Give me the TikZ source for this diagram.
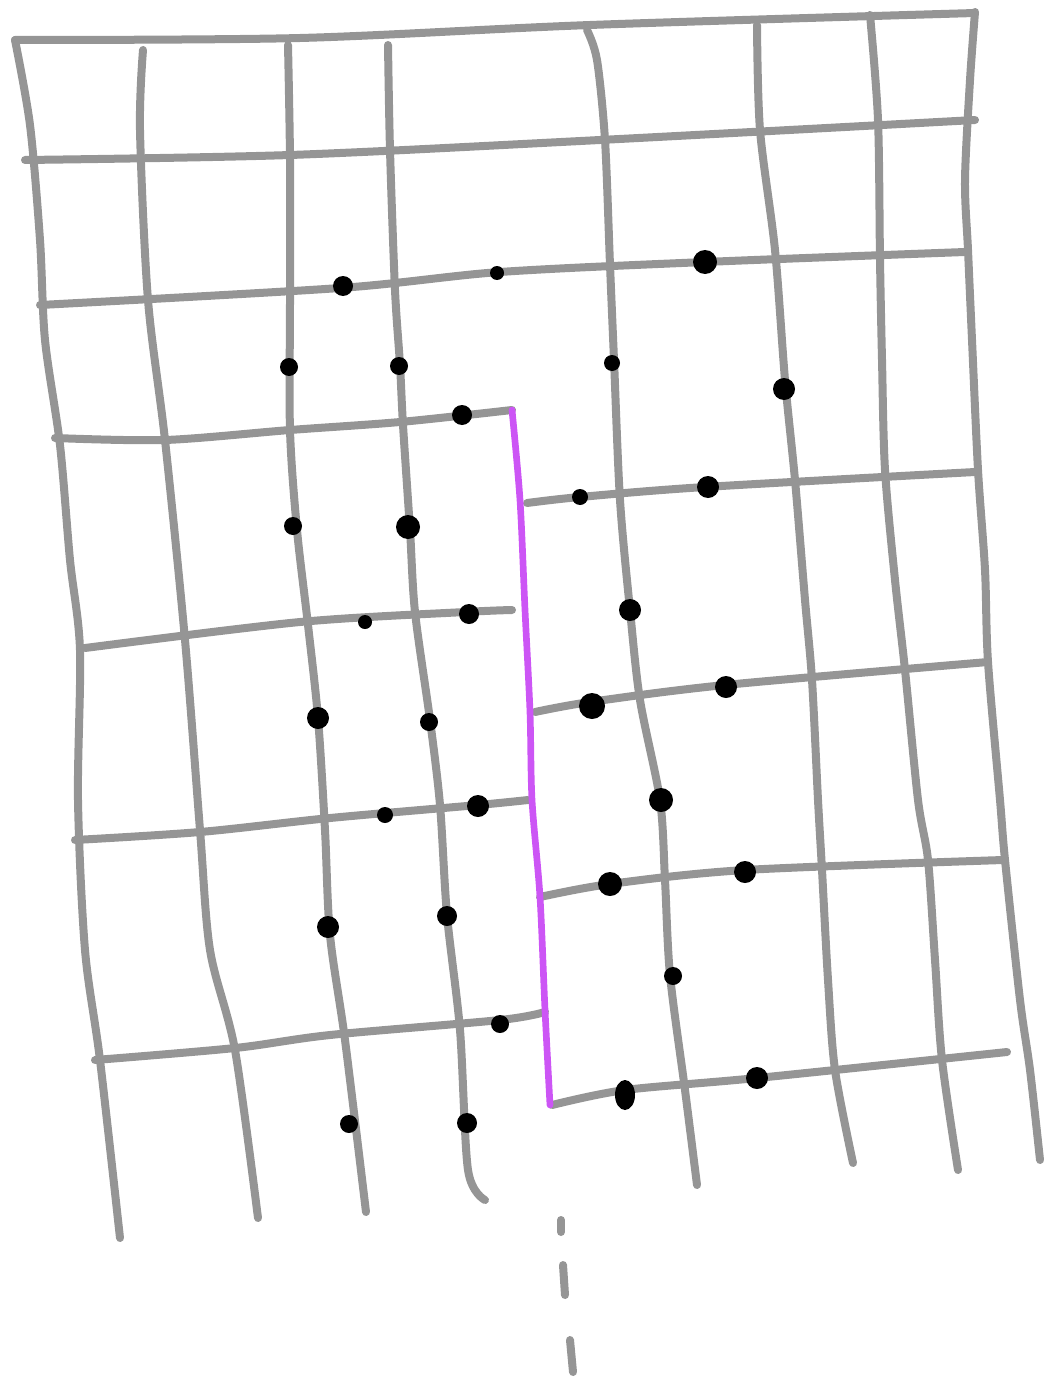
\documentclass[tikz,border=0pt]{standalone}
\definecolor{gridgray}{HTML}{959595}
\definecolor{seam}{HTML}{CC55F5}
\tikzset{
  gridline/.style={draw=gridgray,line width=6pt,line cap=round,line join=round},
  seamline/.style={draw=seam,line width=5pt,line cap=round,line join=round},
  dot/.style={fill=black}
}
\begin{document}
\begin{tikzpicture}[x=0.75pt,y=-0.75pt]
\useasboundingbox (0,0) rectangle (1044,1380);
% horizontal lines
\draw[gridline] plot[smooth] coordinates {(15,40) (300,38) (590,25) (975,13)};
\draw[gridline] plot[smooth] coordinates {(25,160) (290,155) (600,140) (975,120)};
\draw[gridline] plot[smooth] coordinates {(40,305) (340,288) (500,272) (705,262) (965,252)};
\draw[gridline] plot[smooth] coordinates {(55,438) (165,440) (290,430) (400,422) (512,410)};
\draw[gridline] plot[smooth] coordinates {(527,503) (580,497) (705,487) (975,472)};
\draw[gridline] plot[smooth] coordinates {(85,648) (300,622) (465,612) (512,610)};
\draw[gridline] plot[smooth] coordinates {(535,712) (590,702) (725,685) (988,662)};
\draw[gridline] plot[smooth] coordinates {(75,840) (200,832) (330,818) (478,805) (528,800)};
\draw[gridline] plot[smooth] coordinates {(540,897) (610,884) (745,870) (1003,860)};
\draw[gridline] plot[smooth] coordinates {(95,1060) (235,1048) (330,1035) (500,1020) (545,1012)};
\draw[gridline] plot[smooth] coordinates {(552,1105) (625,1090) (757,1078) (1007,1052)};
% vertical lines
\draw[gridline] plot[smooth] coordinates {(15,40) (30,125) (40,240) (45,340) (60,445) (70,560) (80,650) (78,800) (85,950) (100,1060) (120,1238)};
\draw[gridline] plot[smooth] coordinates {(143,50) (140,130) (148,300) (165,440) (185,640) (200,830) (210,950) (235,1050) (258,1218)};
\draw[gridline] plot[smooth] coordinates {(288,45) (290,160) (290,300) (290,430) (297,530) (308,625) (318,718) (325,830) (330,935) (345,1040) (366,1212)};
\draw[gridline] plot[smooth] coordinates {(388,45) (390,150) (395,290) (400,365) (403,425) (410,530) (415,612) (430,720) (440,805) (447,915) (460,1030) (468,1170) (485,1200)};
\draw[gridline] plot[smooth] coordinates {(587,30) (597,60) (605,140) (610,265) (614,360) (620,500) (630,610) (640,700) (660,800) (665,880) (670,975) (685,1090) (697,1185)};
\draw[gridline] plot[smooth] coordinates {(757,25) (760,130) (775,250) (785,380) (795,480) (805,600) (812,680) (818,800) (822,870) (828,980) (835,1070) (853,1163)};
\draw[gridline] plot[smooth] coordinates {(870,15) (878,120) (880,260) (882,360) (885,470) (895,580) (905,670) (918,800) (928,860) (935,960) (942,1060) (958,1170)};
\draw[gridline] plot[smooth] coordinates {(975,12) (970,80) (965,180) (968,250) (972,340) (978,470) (985,570) (988,662) (1000,800) (1005,860) (1020,1000) (1030,1070) (1040,1160)};
% dashes below
\draw[gridline] (561,1220) -- (561,1232);
\draw[gridline] (563,1265) -- (565,1295);
\draw[gridline] (570,1340) -- (573,1372);
% seam
\draw[seamline] plot[smooth] coordinates {(512,410) (520,500) (525,610) (530,712) (532,800) (540,897) (545,1010) (550,1105)};
% dots
\foreach \x/\y/\r in {343/286/10, 497/273/7, 705/262/12,
  289/367/9, 399/366/9, 612/363/8, 784/389/11,
  462/415/10, 580/497/8, 708/487/11,
  293/526/9, 408/527/12,
  365/622/7, 469/614/10, 630/610/11,
  592/706/13, 726/687/11,
  318/718/11, 429/722/9,
  385/815/8, 478/806/11, 661/800/12,
  610/884/12, 745/872/11,
  328/927/11, 447/916/10, 673/976/9,
  500/1024/9,
  757/1078/11,
  349/1124/9, 467/1123/10}
  \fill[dot] (\x,\y) circle[radius=\r];
\fill[dot] (625,1095) ellipse[x radius=10,y radius=15];
\end{tikzpicture}
\end{document}
